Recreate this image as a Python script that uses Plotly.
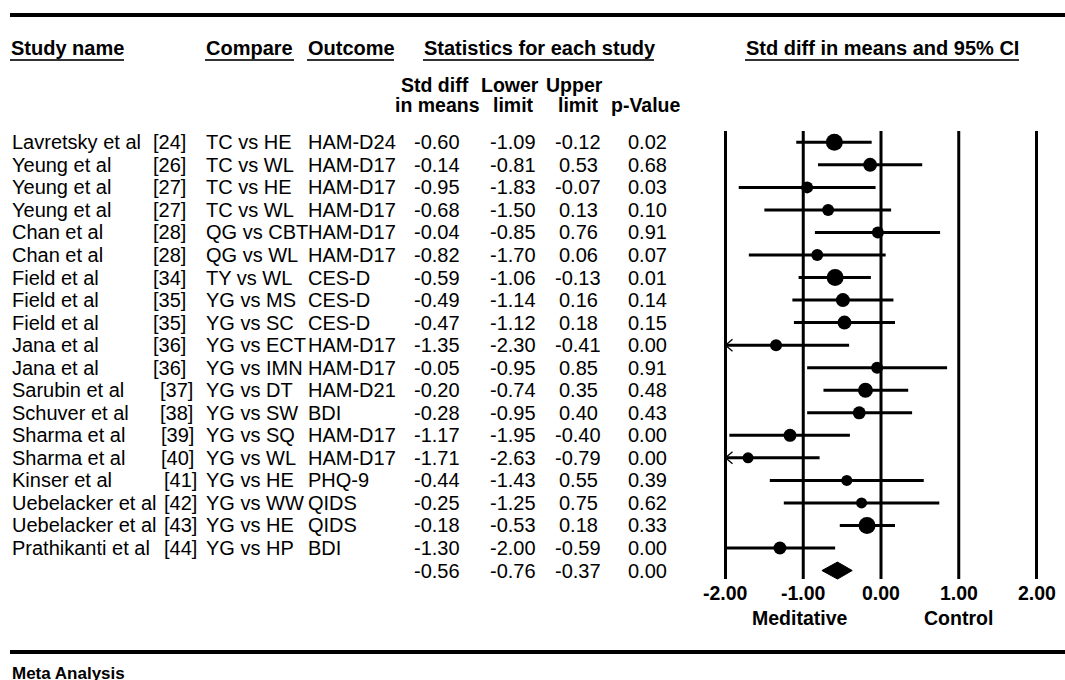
import plotly.graph_objects as go

W, H = 1065, 680

# ---------------- data ----------------
study_names = ["Lavretsky et al", "Yeung et al", "Yeung et al", "Yeung et al", "Chan et al",
               "Chan et al", "Field et al", "Field et al", "Field et al", "Jana et al",
               "Jana et al", "Sarubin et al", "Schuver et al", "Sharma et al", "Sharma et al",
               "Kinser et al", "Uebelacker et al", "Uebelacker et al", "Prathikanti et al"]
refs = ["[24]", "[26]", "[27]", "[27]", "[28]", "[28]", "[34]", "[35]", "[35]", "[36]",
        "[36]", "[37]", "[38]", "[39]", "[40]", "[41]", "[42]", "[43]", "[44]"]
compares = ["TC vs HE", "TC vs WL", "TC vs HE", "TC vs WL", "QG vs CBT", "QG vs WL",
            "TY vs WL", "YG vs MS", "YG vs SC", "YG vs ECT", "YG vs IMN", "YG vs DT",
            "YG vs SW", "YG vs SQ", "YG vs WL", "YG vs HE", "YG vs WW", "YG vs HE", "YG vs HP"]
outcomes = ["HAM-D24", "HAM-D17", "HAM-D17", "HAM-D17", "HAM-D17", "HAM-D17", "CES-D",
            "CES-D", "CES-D", "HAM-D17", "HAM-D17", "HAM-D21", "BDI", "HAM-D17", "HAM-D17",
            "PHQ-9", "QIDS", "QIDS", "BDI"]
std_diff = [-0.60, -0.14, -0.95, -0.68, -0.04, -0.82, -0.59, -0.49, -0.47, -1.35,
            -0.05, -0.20, -0.28, -1.17, -1.71, -0.44, -0.25, -0.18, -1.30]
lower = [-1.09, -0.81, -1.83, -1.50, -0.85, -1.70, -1.06, -1.14, -1.12, -2.30,
         -0.95, -0.74, -0.95, -1.95, -2.63, -1.43, -1.25, -0.53, -2.00]
upper = [-0.12, 0.53, -0.07, 0.13, 0.76, 0.06, -0.13, 0.16, 0.18, -0.41,
         0.85, 0.35, 0.40, -0.40, -0.79, 0.55, 0.75, 0.18, -0.59]
p_values = [0.02, 0.68, 0.03, 0.10, 0.91, 0.07, 0.01, 0.14, 0.15, 0.00,
            0.91, 0.48, 0.43, 0.00, 0.00, 0.39, 0.62, 0.33, 0.00]
# relative study weight, shown as marker diameter (px)
weight_marker = [17, 14, 12, 12, 12, 12, 17, 14, 14, 12, 12, 15, 13, 13, 11, 11, 11, 17, 13]

summary_std_diff = -0.56
summary_lower = -0.76
summary_upper = -0.37
summary_p = 0.00

tick_values = [-2, -1, 0, 1, 2]
tick_labels = ["-2.00", "-1.00", "0.00", "1.00", "2.00"]
axis_min = -2.0

# ---------------- layout geometry (pixels) ----------------
X0_PX = 881.0       # pixel of value 0
X_UNIT = 77.75      # pixels per unit
ROW0_PX = 142.3     # pixel of first row
ROW_H = 22.54       # row height

FONT = "Liberation Sans, Arial, Helvetica, sans-serif"
FS = 20


def px(x):
    return x / W


def py(y):
    return 1 - y / H


n = len(study_names)
rows = list(range(n))
sum_row = n

fig = go.Figure()

# CI lines
for i in rows:
    lo = max(lower[i], axis_min)
    fig.add_trace(go.Scatter(x=[lo, upper[i]], y=[i, i], mode="lines",
                             line=dict(color="black", width=3), hoverinfo="skip",
                             showlegend=False))
    if lower[i] < axis_min:
        dx = 7 / X_UNIT
        dy = 6 / ROW_H
        fig.add_trace(go.Scatter(x=[axis_min + dx, axis_min, axis_min + dx],
                                 y=[i - dy, i, i + dy], mode="lines",
                                 line=dict(color="black", width=1.3), hoverinfo="skip",
                                 showlegend=False))

# point estimates
fig.add_trace(go.Scatter(x=std_diff, y=rows, mode="markers",
                         marker=dict(color="#000000", size=weight_marker, opacity=1,
                                     line=dict(width=0)),
                         hoverinfo="skip", showlegend=False))

# summary diamond
hh = 8.5 / ROW_H
fig.add_trace(go.Scatter(
    x=[summary_lower, summary_std_diff, summary_upper, summary_std_diff, summary_lower],
    y=[sum_row, sum_row - hh, sum_row, sum_row + hh, sum_row],
    mode="lines", fill="toself", fillcolor="black",
    line=dict(color="black", width=1), hoverinfo="skip", showlegend=False))

shapes = []
# vertical reference lines
for t in tick_values:
    shapes.append(dict(type="line", xref="x", yref="paper", x0=t, x1=t,
                       y0=py(131), y1=py(579), line=dict(color="black", width=3)))
# top and bottom rules
shapes.append(dict(type="line", xref="paper", yref="paper", x0=px(10), x1=1,
                   y0=py(15), y1=py(15), line=dict(color="black", width=4)))
shapes.append(dict(type="line", xref="paper", yref="paper", x0=px(10), x1=1,
                   y0=py(652), y1=py(652), line=dict(color="black", width=4)))
# header underlines
for a, b in [(10, 124), (205, 294), (307, 394), (423, 654), (745, 1019)]:
    shapes.append(dict(type="line", xref="paper", yref="paper", x0=px(a), x1=px(b),
                       y0=py(60), y1=py(60), line=dict(color="#333333", width=2)))

ann = []


def add_text(text, x, y, anchor="left", yref="paper", size=FS, bold=False):
    ann.append(dict(text=("<b>%s</b>" % text) if bold else text,
                    x=x, y=y, xref="paper", yref=yref, xanchor=anchor, yanchor="middle",
                    showarrow=False, font=dict(family=FONT, size=size, color="black"),
                    borderpad=0))


# headers
add_text("Study name", px(10), py(48), bold=True)
add_text("Compare", px(205), py(48), bold=True)
add_text("Outcome", px(307), py(48), bold=True)
add_text("Statistics for each study", px(423), py(48), bold=True)
add_text("Std diff in means and 95% CI", px(745), py(48), bold=True)
SUB = 19.5
add_text("Std diff", px(435), py(85), anchor="center", size=SUB, bold=True)
add_text("in means", px(437), py(105), anchor="center", size=SUB, bold=True)
add_text("Lower", px(510), py(85), anchor="center", size=SUB, bold=True)
add_text("limit", px(513), py(105), anchor="center", size=SUB, bold=True)
add_text("Upper", px(574), py(85), anchor="center", size=SUB, bold=True)
add_text("limit", px(578), py(105), anchor="center", size=SUB, bold=True)
add_text("p-Value", px(646), py(105), anchor="center", size=SUB, bold=True)

ref_right = [187] * 11 + [194, 194, 195, 195, 198, 198, 198, 198]

for i in rows:
    add_text(study_names[i], px(11), i, yref="y")
    add_text(refs[i], px(ref_right[i]), i, anchor="right", yref="y")
    add_text(compares[i], px(205), i, yref="y")
    add_text(outcomes[i], px(307), i, yref="y")
    add_text("%.2f" % std_diff[i], px(437), i, anchor="center", yref="y")
    add_text("%.2f" % lower[i], px(513), i, anchor="center", yref="y")
    add_text("%.2f" % upper[i], px(578), i, anchor="center", yref="y")
    add_text("%.2f" % p_values[i], px(647), i, anchor="center", yref="y")

add_text("%.2f" % summary_std_diff, px(437), sum_row, anchor="center", yref="y")
add_text("%.2f" % summary_lower, px(513), sum_row, anchor="center", yref="y")
add_text("%.2f" % summary_upper, px(578), sum_row, anchor="center", yref="y")
add_text("%.2f" % summary_p, px(647), sum_row, anchor="center", yref="y")

# axis tick labels
for t, lab in zip(tick_values, tick_labels):
    ann.append(dict(text="<b>%s</b>" % lab, x=t, y=py(593), xref="x", yref="paper",
                    xanchor="center", yanchor="middle", showarrow=False, borderpad=0,
                    font=dict(family=FONT, size=19.5, color="black")))
add_text("Meditative", px(800), py(618), anchor="center", size=19.5, bold=True)
add_text("Control", px(958), py(618), anchor="center", size=19.5, bold=True)
add_text("Meta Analysis", px(11), py(673), size=17, bold=True)

fig.update_layout(
    width=W, height=H, margin=dict(l=0, r=0, t=0, b=0),
    paper_bgcolor="white", plot_bgcolor="white",
    xaxis=dict(range=[(0 - X0_PX) / X_UNIT, (W - X0_PX) / X_UNIT], visible=False,
               fixedrange=True),
    yaxis=dict(range=[(H - ROW0_PX) / ROW_H, (0 - ROW0_PX) / ROW_H], visible=False,
               fixedrange=True),
    shapes=shapes, annotations=ann, showlegend=False,
)

fig.write_html("out.html", config={"displayModeBar": False},
               post_script="document.body.style.margin='0';document.body.style.overflow='hidden';")
